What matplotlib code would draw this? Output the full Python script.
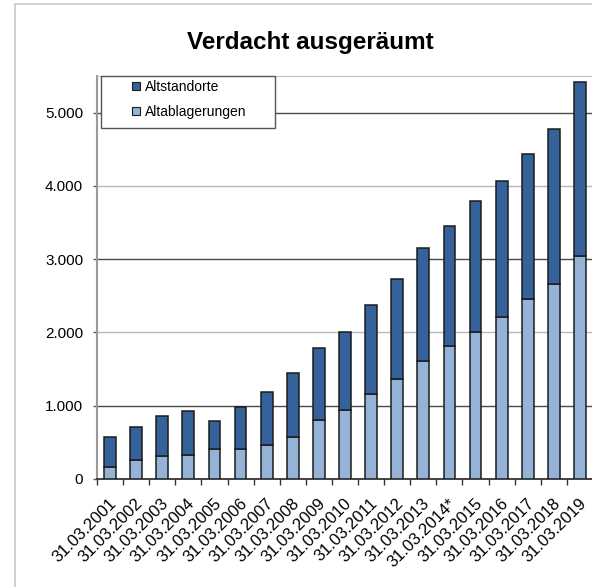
import matplotlib.pyplot as plt
from matplotlib.patches import Rectangle
from matplotlib.lines import Line2D
from matplotlib.ticker import FuncFormatter, FixedLocator
from matplotlib.transforms import ScaledTranslation
import numpy as np

plt.rcParams['font.family'] = ['Liberation Sans', 'DejaVu Sans']

# Data (cumulative cases, as of 31 March)
dates = ["31.03.2001", "31.03.2002", "31.03.2003", "31.03.2004", "31.03.2005",
         "31.03.2006", "31.03.2007", "31.03.2008", "31.03.2009", "31.03.2010",
         "31.03.2011", "31.03.2012", "31.03.2013", "31.03.2014*", "31.03.2015",
         "31.03.2016", "31.03.2017", "31.03.2018", "31.03.2019"]
altablagerungen = [170, 255, 313, 332, 413, 413, 463, 580, 804, 945,
                   1158, 1365, 1608, 1816, 2003, 2211, 2456, 2657, 3042]
gesamt = [575, 704, 854, 922, 786, 985, 1185, 1444, 1785, 2000,
          2375, 2730, 3157, 3451, 3792, 4064, 4432, 4782, 5422]
altstandorte = [g - a for g, a in zip(gesamt, altablagerungen)]

dark_blue = "#36629b"
light_blue = "#95b3d7"
edge = "#1c1c1c"

fig = plt.figure(figsize=(5.92, 5.87), dpi=100)
W, H = 592, 587

# outer chart border
fig.add_artist(Rectangle((15 / W, -0.01), 1.0, (587 - 4) / H + 0.01,
                         transform=fig.transFigure, fill=False,
                         edgecolor="#c8c8c8", linewidth=1.2, zorder=0))

ax = fig.add_axes([97 / W, (H - 479) / H, 496 / W, (479 - 76) / H])
x = np.arange(len(dates))

ax.bar(x, altablagerungen, width=0.45, color=light_blue, edgecolor=edge,
       linewidth=1.1, zorder=3)
ax.bar(x, altstandorte, width=0.45, bottom=altablagerungen, color=dark_blue,
       edgecolor=edge, linewidth=1.1, zorder=3)

ax.set_xlim(-0.5, len(dates) - 0.5)
ax.set_ylim(0, 5500)

# gridlines (alternating shade like the original)
for yv in [1000, 2000, 3000, 4000, 5000]:
    col = "#4a4a4a" if yv % 2000 else "#b8b8b8"
    ax.axhline(yv, color=col, linewidth=1.0, zorder=1)

ax.set_yticks([0, 1000, 2000, 3000, 4000, 5000])
ax.yaxis.set_major_formatter(FuncFormatter(lambda v, p: f"{int(v):,}".replace(",", ".")))
ax.tick_params(axis="y", length=3, width=1, color="#555555", pad=7, labelsize=11)

ax.set_xticks(x)
ax.set_xticklabels(dates, rotation=45, ha="right", va="center",
                   rotation_mode="anchor", fontsize=12)
ax.xaxis.set_minor_locator(FixedLocator(np.arange(-0.5, len(dates), 1.0)))
ax.tick_params(axis="x", which="major", length=0, pad=16)
ax.tick_params(axis="x", which="minor", length=4, width=1, color="#333333")

shift = ScaledTranslation(4 / 100, 0, fig.dpi_scale_trans)
for lab in ax.get_xticklabels():
    lab.set_transform(lab.get_transform() + shift)

ax.spines["top"].set_color("#c0c0c0")
ax.spines["left"].set_color("#9a9a9a")
ax.spines["left"].set_linewidth(1.5)
ax.spines["bottom"].set_color("#222222")
ax.spines["bottom"].set_linewidth(1.2)
ax.spines["right"].set_visible(False)

# title
fig.text(310 / W, 1 - 43 / H, "Verdacht ausgeräumt", ha="center", va="center",
         fontsize=17.5, fontweight="bold")

# legend box
fig.add_artist(Rectangle((101 / W, 1 - 128 / H), 174 / W, 52 / H,
                         transform=fig.transFigure, facecolor="white",
                         edgecolor="#555555", linewidth=1.0, zorder=4))
handles = [Line2D([], [], linestyle="none", marker="s", markersize=6,
                  markerfacecolor=dark_blue, markeredgecolor=edge, markeredgewidth=0.8),
           Line2D([], [], linestyle="none", marker="s", markersize=6,
                  markerfacecolor=light_blue, markeredgecolor=edge, markeredgewidth=0.8)]
fig.legend(handles, ["Altstandorte", "Altablagerungen"], loc="upper left",
           bbox_to_anchor=(126 / W, 1 - 76 / H), frameon=False, fontsize=10,
           handlelength=0.8, handletextpad=0.25, labelspacing=0.75,
           borderpad=0.3, borderaxespad=0)

fig.savefig("out.png", dpi=100)
